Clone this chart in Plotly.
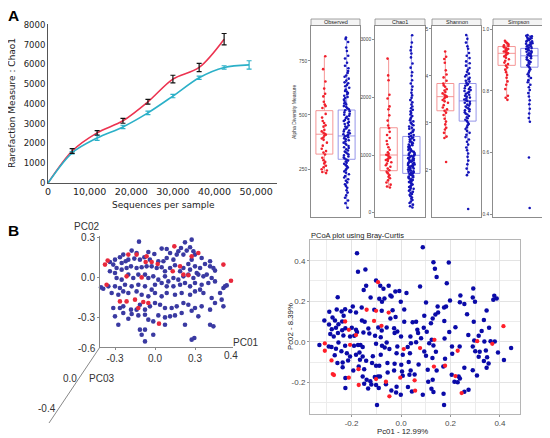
import plotly.graph_objects as go

W, H = 550, 438
OFF = 8  # the page body margin; the figure is shrunk by it so the whole picture fits the window

# ---------------- data ----------------
# A left: rarefaction curves (Chao1)
seq_red = [0, 5800, 11800, 18000, 24000, 30000, 36300, 42300]
chao_red = [0, 1620, 2540, 3150, 4110, 5260, 5850, 7280]
err_red = [0, 125, 110, 125, 120, 195, 210, 290]

seq_cyan = [0, 5800, 11800, 18000, 24000, 30000, 36300, 42300, 48300]
chao_cyan = [0, 1530, 2280, 2840, 3550, 4400, 5330, 5850, 5980]
err_cyan = [0, 60, 125, 85, 85, 85, 85, 85, 210]

# A right: alpha diversity box stats (q1, median, q3, lower whisker, upper whisker)
facets = ["Observed", "Chao1", "Shannon", "Simpson"]
box_red = {
    "Observed": [319, 411, 520, 231, 772],
    "Chao1": [728, 1000, 1473, 433, 2670],
    "Shannon": [3.26, 3.56, 3.84, 2.68, 4.52],
    "Simpson": [0.883, 0.922, 0.944, 0.771, 0.963],
}
box_blue = {
    "Observed": [295, 403, 523, 70, 860],
    "Chao1": [681, 995, 1322, 90, 3080],
    "Shannon": [3.04, 3.47, 3.84, 1.89, 4.87],
    "Simpson": [0.877, 0.914, 0.938, 0.70, 0.981],
}

obs_red = [772, 712, 655, 622, 598, 586, 561, 548, 541, 532, 505, 488, 472, 463,
           452, 446, 431, 424, 418, 413, 409, 404, 396, 391, 385, 372, 358, 344,
           333, 326, 317, 302, 291, 283, 276, 265, 258, 249, 243, 236, 231]
obs_blue = [858, 851, 838, 812, 796, 774, 761, 742, 728, 716, 703, 694, 683, 677,
            668, 659, 651, 647, 639, 633, 626, 618, 611, 607, 602, 596, 589, 583,
            578, 571, 566, 558, 553, 549, 541, 537, 531, 526, 522, 517, 512, 506,
            501, 497, 492, 486, 481, 477, 472, 468, 463, 458, 452, 447, 443, 438,
            433, 428, 424, 419, 415, 411, 407, 404, 401, 397, 392, 388, 383, 378,
            372, 367, 362, 356, 351, 347, 341, 336, 331, 327, 322, 317, 313, 308,
            303, 299, 294, 289, 285, 279, 274, 268, 262, 257, 251, 246, 239, 233,
            226, 218, 211, 203, 196, 188, 179, 171, 163, 152, 141, 128, 117, 104,
            92, 71]
chao_red_pts = [2672, 2381, 2296, 2045, 1981, 1843, 1792, 1688, 1597, 1512, 1466,
                1402, 1348, 1296, 1243, 1187, 1134, 1092, 1048, 1021, 1004, 993,
                972, 955, 941, 928, 913, 896, 874, 851, 823, 797, 764, 735, 708,
                682, 651, 623, 598, 561, 522, 486, 455, 436]
chao_blue_pts = [3078, 2952, 2871, 2814, 2760, 2693, 2588, 2515, 2436, 2374, 2297,
                 2241, 2186, 2133, 2078, 2034, 1991, 1952, 1913, 1876, 1842, 1811,
                 1783, 1756, 1728, 1702, 1677, 1651, 1628, 1604, 1583, 1561, 1538,
                 1516, 1495, 1474, 1456, 1437, 1418, 1399, 1381, 1364, 1347, 1331,
                 1316, 1302, 1288, 1273, 1259, 1246, 1232, 1219, 1206, 1193, 1181,
                 1168, 1156, 1144, 1132, 1121, 1109, 1098, 1087, 1076, 1065, 1054,
                 1044, 1033, 1022, 1012, 1002, 993, 983, 974, 964, 955, 946, 936,
                 927, 918, 909, 900, 891, 882, 873, 864, 855, 846, 837, 828, 819,
                 810, 801, 792, 783, 774, 765, 756, 747, 738, 728, 719, 709, 699,
                 689, 679, 669, 659, 648, 637, 626, 615, 604, 592, 580, 568, 556,
                 543, 530, 517, 503, 489, 475, 460, 445, 429, 413, 396, 379, 361,
                 343, 324, 305, 285, 264, 242, 219, 195, 168, 139, 112, 91]
shan_red = [4.52, 4.41, 4.36, 4.28, 4.12, 4.03, 3.97, 3.9, 3.84, 3.8, 3.77, 3.72,
            3.69, 3.66, 3.63, 3.6, 3.58, 3.56, 3.55, 3.52, 3.49, 3.46, 3.43, 3.38,
            3.33, 3.29, 3.26, 3.22, 3.17, 3.09, 3.03, 2.97, 2.9, 2.86, 2.79, 2.71,
            2.68, 2.17]
shan_blue = [4.87, 4.79, 4.71, 4.63, 4.58, 4.49, 4.43, 4.38, 4.31, 4.27, 4.22, 4.17,
             4.13, 4.09, 4.05, 4.02, 3.99, 3.96, 3.93, 3.9, 3.88, 3.85, 3.83, 3.81,
             3.79, 3.76, 3.74, 3.72, 3.7, 3.68, 3.66, 3.64, 3.62, 3.6, 3.58, 3.56,
             3.54, 3.52, 3.5, 3.48, 3.47, 3.45, 3.43, 3.41, 3.39, 3.37, 3.35, 3.33,
             3.31, 3.29, 3.27, 3.25, 3.23, 3.2, 3.18, 3.15, 3.12, 3.1, 3.07, 3.04,
             3.01, 2.98, 2.95, 2.91, 2.87, 2.83, 2.79, 2.75, 2.7, 2.65, 2.6, 2.54,
             2.48, 2.42, 2.35, 2.28, 2.2, 2.12, 2.03, 1.95, 1.89, 1.17]
simp_red = [0.963, 0.958, 0.955, 0.951, 0.948, 0.946, 0.943, 0.941, 0.938, 0.936,
            0.933, 0.931, 0.928, 0.926, 0.924, 0.922, 0.919, 0.916, 0.912, 0.908,
            0.903, 0.898, 0.892, 0.887, 0.882, 0.876, 0.869, 0.861, 0.852, 0.843,
            0.831, 0.82, 0.806, 0.784, 0.778, 0.771]
simp_blue = [0.981, 0.979, 0.977, 0.976, 0.973, 0.971, 0.969, 0.968, 0.965, 0.963,
             0.961, 0.96, 0.957, 0.955, 0.953, 0.952, 0.949, 0.947, 0.945, 0.944,
             0.941, 0.939, 0.937, 0.936, 0.933, 0.931, 0.929, 0.927, 0.925, 0.922,
             0.92, 0.918, 0.916, 0.914, 0.912, 0.909, 0.906, 0.903, 0.9, 0.897,
             0.894, 0.891, 0.887, 0.883, 0.879, 0.875, 0.87, 0.865, 0.86, 0.854,
             0.848, 0.842, 0.835, 0.828, 0.82, 0.812, 0.803, 0.793, 0.782, 0.77,
             0.757, 0.742, 0.727, 0.712, 0.7, 0.584, 0.42]
pts_red = {"Observed": obs_red, "Chao1": chao_red_pts, "Shannon": shan_red, "Simpson": simp_red}
pts_blue = {"Observed": obs_blue, "Chao1": chao_blue_pts, "Shannon": shan_blue, "Simpson": simp_blue}

# B left: PCA (PC01, PC02 as drawn)
pca_blue_x = [-0.12, 0.275, 0.225, 0.05, 0.088, 0.113, -0.005, -0.05, -0.138, -0.175,
              -0.238, -0.263, -0.30, -0.338, -0.313, -0.288, -0.25, -0.22, -0.20, -0.155,
              -0.113, -0.08, -0.038, 0.025, 0.063, 0.088, 0.138, 0.163, 0.175, 0.195,
              0.213, 0.238, 0.263, 0.288, 0.30, 0.275, 0.25, 0.30, 0.35, 0.375,
              0.413, 0.438, 0.45, 0.413, 0.338, 0.313, 0.263, 0.213, 0.188, 0.15,
              0.113, 0.075, 0.05, 0.013, -0.025, -0.063, -0.10, -0.138, -0.18, -0.213,
              -0.25, -0.30, -0.338, -0.288, -0.25, -0.20, -0.163, -0.125, -0.075, -0.05,
              -0.013, 0.025, 0.075, 0.10, 0.138, 0.175, 0.213, 0.25, 0.288, 0.325,
              0.363, 0.388, 0.425, 0.45, 0.40, 0.35, 0.30, 0.263, 0.225, 0.188,
              0.138, 0.088, 0.05, 0.0, -0.025, -0.075, -0.125, -0.175, -0.225, -0.263,
              -0.30, -0.35, -0.405, -0.388, -0.325, -0.275, -0.238, -0.20, -0.138, -0.10,
              -0.05, 0.0, 0.05, 0.088, 0.15, 0.20, 0.263, 0.30, 0.338, 0.363,
              0.425, 0.488, 0.513, 0.525, 0.538, 0.50, 0.45, 0.413, 0.35, 0.30,
              0.25, 0.213, 0.163, 0.125, 0.075, 0.038, 0.0, -0.038, -0.075, -0.113,
              -0.138, -0.18, -0.238, -0.263, -0.313, -0.30, -0.238, -0.175, -0.125, -0.075,
              -0.05, -0.013, 0.025, 0.075, 0.113, 0.15, 0.20, 0.275, 0.325, 0.513,
              0.413, 0.438, 0.225, 0.075, -0.113, -0.075, -0.10, -0.013, -0.075, 0.275,
              0.295, -0.275, -0.20]
pca_blue_y = [0.265, 0.28, 0.26, 0.213, 0.21, 0.18, 0.173, 0.188, 0.18, 0.198,
              0.168, 0.148, 0.13, 0.113, 0.093, 0.068, 0.105, 0.118, 0.13, 0.138,
              0.13, 0.148, 0.13, 0.118, 0.118, 0.143, 0.13, 0.168, 0.193, 0.218,
              0.168, 0.198, 0.223, 0.193, 0.168, 0.13, 0.098, 0.08, 0.143, 0.098,
              0.08, 0.068, 0.048, 0.118, 0.068, 0.03, 0.055, 0.068, 0.043, 0.088,
              0.068, 0.043, 0.073, 0.068, 0.08, 0.08, 0.073, 0.068, 0.08, 0.068,
              0.055, 0.03, 0.043, -0.008, -0.02, 0.018, -0.008, 0.018, 0.018, -0.008,
              0.005, -0.02, 0.005, -0.033, -0.008, -0.02, 0.005, 0.018, -0.008, 0.018,
              0.005, 0.018, -0.008, -0.033, -0.045, -0.058, -0.045, -0.07, -0.045, -0.058,
              -0.07, -0.07, -0.045, -0.058, -0.095, -0.07, -0.058, -0.07, -0.058, -0.083,
              -0.07, -0.07, -0.078, -0.088, -0.12, -0.133, -0.108, -0.12, -0.108, -0.133,
              -0.145, -0.12, -0.145, -0.12, -0.133, -0.12, -0.133, -0.108, -0.095, -0.12,
              -0.158, -0.12, -0.083, -0.07, -0.063, -0.17, -0.195, -0.245, -0.22, -0.233,
              -0.208, -0.195, -0.22, -0.233, -0.233, -0.208, -0.195, -0.22, -0.245, -0.208,
              -0.245, -0.245, -0.22, -0.233, -0.233, -0.295, -0.27, -0.278, -0.288, -0.283,
              -0.32, -0.333, -0.288, -0.303, -0.295, -0.288, -0.27, -0.253, -0.295, -0.22,
              -0.358, -0.37, -0.358, -0.358, -0.395, -0.395, -0.433, -0.433, -0.483, -0.47,
              -0.458, -0.358, -0.313]
pca_red_x = [-0.375, -0.355, -0.20, -0.138, -0.063, -0.07, -0.025, 0.02, 0.145, 0.325,
             0.275, 0.513, 0.57, -0.363, -0.213, -0.10, 0.133, 0.188, 0.213, 0.25,
             -0.263, -0.213, -0.15, -0.088, -0.05, -0.125, 0.03]
pca_red_y = [0.093, 0.123, 0.168, 0.168, 0.155, 0.113, 0.113, 0.098, 0.23, 0.18,
             0.155, 0.093, -0.028, -0.058, 0.005, -0.003, 0.043, 0.08, 0.018, 0.013,
             -0.183, -0.183, -0.17, -0.188, -0.195, -0.233, -0.35]

# B right: PCoA (Bray-Curtis)
pcoa_blue_x = [-0.178, -0.174, -0.144, -0.101, -0.141, -0.084, -0.050, -0.071, -0.151, -0.023,
               -0.007, 0.022, -0.043, -0.256, -0.123, -0.088, -0.067, -0.038, -0.077, -0.001,
               -0.195, -0.159, -0.226, -0.205, -0.108, -0.078, -0.034, 0.013, -0.290, -0.260,
               -0.240, -0.182, -0.232, -0.277, -0.310, -0.267, -0.238, -0.158, -0.147, -0.043,
               -0.022, 0.013, 0.047, -0.291, -0.253, -0.225, -0.199, -0.182, -0.178, -0.132,
               -0.092, -0.078, -0.058, -0.028, -0.015, -0.280, -0.263, -0.238, -0.286, -0.272,
               -0.255, -0.233, -0.206, -0.189, -0.152, -0.128, -0.105, -0.082, -0.058, -0.026,
               0.000, 0.038, -0.330, -0.292, -0.253, -0.226, -0.190, -0.174, -0.164, -0.155,
               -0.101, -0.077, -0.066, -0.047, -0.015, 0.027, 0.040, -0.281, -0.263, -0.241,
               -0.219, -0.168, -0.182, -0.155, -0.114, -0.082, -0.018, 0.007, 0.036, -0.268,
               -0.206, -0.257, -0.236, -0.214, -0.166, -0.141, -0.117, -0.101, -0.088, -0.055,
               -0.026, 0.001, 0.031, -0.171, -0.193, -0.149, -0.236, -0.054, -0.028, 0.004,
               0.039, 0.034, -0.225, -0.155, -0.139, -0.106, -0.093, -0.085, 0.007, -0.124,
               -0.149, -0.120, -0.101, -0.061, -0.018, 0.028, -0.225, -0.133, -0.090, -0.039,
               -0.020, -0.001, 0.044, -0.097,
               0.088, 0.131, 0.193, 0.137, 0.144, 0.077, 0.185, 0.240, 0.290, 0.292,
               0.198, 0.238, 0.256, 0.299, 0.101, 0.182, 0.174, 0.148, 0.346, 0.377,
               0.387, 0.373, 0.267, 0.094, 0.139, 0.150, 0.061, 0.175, 0.128, 0.121,
               0.294, 0.092, 0.066, 0.069, 0.104, 0.195, 0.220, 0.335, 0.356, 0.326,
               0.314, 0.272, 0.176, 0.124, 0.114, 0.081, 0.061, 0.131, 0.206, 0.237,
               0.296, 0.337, 0.362, 0.379, 0.445, 0.290, 0.094, 0.101, 0.141, 0.207,
               0.300, 0.318, 0.343, 0.314, 0.348, 0.392, 0.416, 0.127, 0.178, 0.171,
               0.071, 0.108, 0.144, 0.256, 0.290, 0.346, 0.307, 0.354, 0.335, 0.205,
               0.233, 0.238, 0.216, 0.229, 0.110, 0.128, 0.055, 0.123, 0.131, 0.088,
               0.172, 0.256, 0.273, 0.174]
pcoa_blue_y = [0.437, 0.345, 0.356, 0.302, 0.277, 0.277, 0.277, 0.261, 0.256, 0.248,
               0.250, 0.241, 0.228, 0.220, 0.218, 0.212, 0.213, 0.223, 0.197, 0.197,
               0.174, 0.169, 0.161, 0.151, 0.158, 0.153, 0.156, 0.159, 0.148, 0.159,
               0.149, 0.144, 0.128, 0.120, 0.105, 0.105, 0.100, 0.105, 0.099, 0.115,
               0.122, 0.099, 0.097, 0.085, 0.087, 0.067, 0.069, 0.059, 0.048, 0.066,
               0.071, 0.056, 0.071, 0.067, 0.051, 0.062, 0.069, 0.057, 0.039, 0.026,
               0.043, 0.031, 0.026, 0.030, 0.046, 0.041, 0.030, 0.023, -0.003, 0.043,
               0.026, 0.026, -0.016, -0.023, -0.003, -0.020, -0.020, -0.016, -0.016, -0.026,
               -0.010, -0.020, -0.028, -0.036, -0.023, -0.026, -0.007, -0.026, -0.034, -0.046,
               -0.056, -0.053, -0.064, -0.072, -0.071, -0.064, -0.056, -0.064, -0.056, -0.066,
               -0.072, -0.105, -0.102, -0.092, -0.089, -0.094, -0.105, -0.118, -0.118, -0.105,
               -0.108, -0.113, -0.099, -0.122, -0.141, -0.135, -0.125, -0.151, -0.141, -0.146,
               -0.141, -0.163, -0.179, -0.171, -0.187, -0.174, -0.171, -0.171, -0.167, -0.195,
               -0.207, -0.210, -0.213, -0.209, -0.222, -0.223, -0.228, -0.230, -0.228, -0.240,
               -0.250, -0.261, -0.245, -0.312,
               0.466, 0.392, 0.391, 0.360, 0.319, 0.273, 0.289, 0.228, 0.218, 0.263,
               0.204, 0.195, 0.186, 0.197, 0.194, 0.174, 0.169, 0.174, 0.154, 0.227,
               0.213, 0.207, 0.136, 0.128, 0.135, 0.144, 0.099, 0.102, 0.115, 0.092,
               0.099, 0.069, 0.059, 0.043, 0.049, 0.048, 0.072, 0.107, 0.069, 0.053,
               0.030, 0.034, 0.016, 0.010, -0.007, 0.018, -0.002, -0.018, -0.023, -0.023,
               0.007, 0.002, 0.003, 0.002, -0.031, -0.023, -0.048, -0.069, -0.049, -0.059,
               -0.046, -0.049, -0.043, -0.074, -0.076, -0.053, -0.090, -0.080, -0.084, -0.122,
               -0.112, -0.138, -0.141, -0.128, -0.140, -0.128, -0.166, -0.107, -0.095, -0.163,
               -0.171, -0.181, -0.197, -0.199, -0.197, -0.187, -0.161, -0.232, -0.248, -0.261,
               -0.256, -0.246, -0.236, -0.312]
pcoa_red_x = [-0.093, -0.139, -0.101, -0.050, -0.226, -0.109, -0.211, -0.079, -0.182, -0.308,
              -0.206, 0.011, -0.308, -0.281, -0.172, -0.276, -0.271, -0.211, -0.101, -0.061,
              -0.003, -0.171, -0.047,
              0.414, 0.135, 0.308, 0.369, 0.077, 0.229, 0.178, 0.133, 0.220, 0.055,
              0.057, 0.245]
pcoa_red_y = [0.294, 0.158, 0.153, 0.144, 0.100, 0.103, 0.059, 0.079, 0.033, -0.008,
              -0.015, -0.036, -0.044, -0.092, -0.135, -0.159, -0.164, -0.177, -0.184, -0.197,
              -0.177, -0.213, -0.269,
              0.077, 0.010, 0.003, -0.010, -0.031, -0.044, -0.118, -0.122, -0.169, -0.190,
              -0.241, -0.253]

# ---------------- styling ----------------
FONT = "Liberation Sans, Arial, sans-serif"
FONT_A = "DejaVu Sans, Verdana, sans-serif"
RED_LINE = "#ec3350"
CYAN_LINE = "#2bb0c8"
PT_RED = "#f0202c"
PT_BLUE = "#1414b8"
BOX_RED = "#f48a8a"
BOX_BLUE = "#8a8ae6"

FW, FH = W - OFF, H - OFF


def fx(p):
    # picture pixel -> paper fraction
    return (p - OFF) / FW


def fy(p):
    return 1 - (p - OFF) / FH


def label(text, px, py, size, xanchor="center", angle=0, family=FONT, color="#222222"):
    return dict(x=fx(px), y=fy(py), xref="paper", yref="paper", text=text, showarrow=False,
                xanchor=xanchor, yanchor="middle", textangle=angle,
                font=dict(family=family, size=size, color=color))


fig = go.Figure()

# ---- A left: rarefaction ----
fig.add_trace(go.Scatter(x=seq_red, y=chao_red, mode="lines", line=dict(color=RED_LINE, width=1.6, shape="spline", smoothing=0.9),
                         xaxis="x", yaxis="y", showlegend=False))
fig.add_trace(go.Scatter(x=seq_cyan, y=chao_cyan, mode="lines", line=dict(color=CYAN_LINE, width=1.6, shape="spline", smoothing=0.9),
                         xaxis="x", yaxis="y", showlegend=False))
fig.add_trace(go.Scatter(x=seq_cyan[1:], y=chao_cyan[1:], mode="markers", marker=dict(size=1, color="rgba(0,0,0,0)"),
                         error_y=dict(type="data", array=err_cyan[1:], color=CYAN_LINE, thickness=1.2, width=2.5),
                         xaxis="x", yaxis="y", showlegend=False))
fig.add_trace(go.Scatter(x=seq_red[1:], y=chao_red[1:], mode="markers", marker=dict(size=1, color="rgba(0,0,0,0)"),
                         error_y=dict(type="data", array=err_red[1:], color="#111111", thickness=1.2, width=2.5),
                         xaxis="x", yaxis="y", showlegend=False))

# ---- A right: alpha diversity facets ----
facet_px = [(311, 360), (375, 425), (432, 481), (493, 543)]
facet_ranges = [[28, 914], [-75, 3246], [1.0, 5.074], [0.391, 1.0123]]
facet_ticks = [([250, 500, 750], ["250", "500", "750"]),
               ([0, 1000, 2000, 3000], ["0", "1000", "2000", "3000"]),
               ([2, 3, 4, 5], ["2", "3", "4", "5"]),
               ([0.4, 0.6, 0.8, 1.0], ["0.4", "0.6", "0.8", "1.0"])]
PANEL_TOP, PANEL_BOT = 25.5, 217

layout_axes = {}
shapes = []
annotations = []
for i, name in enumerate(facets):
    n = i + 2
    xa, ya = "x%d" % n, "y%d" % n
    for grp, stats, pts, lc, pc in [(0, box_red[name], pts_red[name], BOX_RED, PT_RED),
                                     (1, box_blue[name], pts_blue[name], BOX_BLUE, PT_BLUE)]:
        fig.add_trace(go.Box(x=[grp], q1=[stats[0]], median=[stats[1]], q3=[stats[2]],
                             lowerfence=[stats[3]], upperfence=[stats[4]], width=0.76,
                             whiskerwidth=0, boxpoints=False, fillcolor="rgba(255,255,255,0)",
                             line=dict(color=lc, width=0.9), xaxis=xa, yaxis=ya, showlegend=False))
        fig.add_trace(go.Box(y=pts, x0=grp, width=0.76, boxpoints="all", jitter=0.4, pointpos=0,
                             fillcolor="rgba(0,0,0,0)", line=dict(width=0, color="rgba(0,0,0,0)"),
                             marker=dict(color=pc, size=2.6), xaxis=xa, yaxis=ya, showlegend=False))
    x0, x1 = facet_px[i]
    layout_axes["xaxis%d" % n] = dict(domain=[fx(x0), fx(x1)], anchor=ya, range=[-0.6, 1.6], automargin=False,
                                      showticklabels=False, ticks="", showgrid=False, zeroline=False,
                                      showline=True, mirror=True, linecolor="#8c8c8c", linewidth=0.8)
    tv, tt = facet_ticks[i]
    layout_axes["yaxis%d" % n] = dict(domain=[fy(PANEL_BOT), fy(PANEL_TOP)], anchor=xa, range=facet_ranges[i],
                                      automargin=False,
                                      tickvals=tv, ticktext=tt, ticks="outside", ticklen=2, tickcolor="#8c8c8c",
                                      tickfont=dict(size=4.8, color="#444444"), showgrid=False, zeroline=False,
                                      showline=True, mirror=True, linecolor="#8c8c8c", linewidth=0.8)
    shapes.append(dict(type="rect", xref="paper", yref="paper", x0=fx(x0), x1=fx(x1), y0=fy(25.5), y1=fy(19),
                       line=dict(color="#8c8c8c", width=0.8), fillcolor="#f4f4f4", layer="below"))
    annotations.append(label(name, (x0 + x1) / 2, 22.3, 5.5))

annotations.append(label("Alpha Diversity Measure", 294, 112, 5, angle=-90, color="#333333"))

# ---- B left: PCA drawn in perspective ----
fig.add_trace(go.Scatter(x=pca_blue_x, y=pca_blue_y, mode="markers", cliponaxis=False,
                         marker=dict(color="#3a3aa2", size=4.6, line=dict(width=0)),
                         xaxis="x6", yaxis="y6", showlegend=False))
fig.add_trace(go.Scatter(x=pca_red_x, y=pca_red_y, mode="markers", cliponaxis=False,
                         marker=dict(color="#e8283c", size=4.6, line=dict(width=0)),
                         xaxis="x6", yaxis="y6", showlegend=False))
layout_axes["xaxis6"] = dict(domain=[fx(100), fx(233)], anchor="y6", range=[-0.4125, 0.585], automargin=False,
                             tickvals=[-0.3, 0.0, 0.3], ticktext=["-0.3", "0.0", "0.3"],
                             ticks="outside", ticklen=2, tickcolor="#888888",
                             tickfont=dict(size=10, color="#333333"), showgrid=False, zeroline=False,
                             showline=True, linecolor="#888888", linewidth=1)
layout_axes["yaxis6"] = dict(domain=[fy(347), fy(236)], anchor="x6", range=[-0.525, 0.3075], automargin=False,
                             tickvals=[-0.3, 0.0, 0.3], ticktext=["-0.3", "0.0", "0.3"],
                             ticks="outside", ticklen=2, tickcolor="#888888",
                             tickfont=dict(size=10, color="#333333"), showgrid=False, zeroline=False,
                             showline=True, linecolor="#888888", linewidth=1)
shapes.append(dict(type="line", xref="paper", yref="paper", x0=fx(100), y0=fy(347), x1=fx(49), y1=fy(423),
                   line=dict(color="#888888", width=1)))
for txt, px, py, anc in [("PC02", 86, 226.5, "center"), ("PC01", 245, 342, "center"), ("0.4", 231, 355, "center"),
                         ("-0.6", 98, 348, "right"), ("0.0", 79, 378, "right"), ("PC03", 87, 378, "left"),
                         ("-0.4", 58, 408, "right")]:
    annotations.append(label(txt, px, py, 10, xanchor=anc, color="#333333"))

# ---- B right: PCoA ----
fig.add_trace(go.Scatter(x=pcoa_blue_x, y=pcoa_blue_y, mode="markers",
                         marker=dict(color="#0a0aa8", size=4.5, line=dict(width=0)),
                         xaxis="x7", yaxis="y7", showlegend=False))
fig.add_trace(go.Scatter(x=pcoa_red_x, y=pcoa_red_y, mode="markers",
                         marker=dict(color="#ff1f2a", size=4.3, line=dict(width=0)),
                         xaxis="x7", yaxis="y7", showlegend=False))
grid_minor = dict(showgrid=True, gridcolor="#ececec", gridwidth=0.8, dtick=0.1, tick0=0.1, ticks="")
pcoa_ticks = [-0.2, 0.0, 0.2, 0.4]
pcoa_text = ["-0.2", "0.0", "0.2", "0.4"]
layout_axes["xaxis7"] = dict(domain=[fx(310), fx(520)], anchor="y7", range=[-0.368, 0.481], automargin=False,
                             tickvals=pcoa_ticks, ticktext=pcoa_text, ticks="outside", ticklen=1.5, tickcolor="#999999",
                             tickfont=dict(size=8, color="#4d4d4d"), showgrid=True, gridcolor="#e3e3e3",
                             gridwidth=0.8, zeroline=False, minor=grid_minor,
                             showline=True, mirror=True, linecolor="#b5b5b5", linewidth=1)
layout_axes["yaxis7"] = dict(domain=[fy(414), fy(240)], anchor="x7", range=[-0.356, 0.502], automargin=False,
                             tickvals=pcoa_ticks, ticktext=pcoa_text, ticks="outside", ticklen=2, tickcolor="#999999",
                             tickfont=dict(size=8, color="#4d4d4d"), showgrid=True, gridcolor="#e3e3e3",
                             gridwidth=0.8, zeroline=False, minor=grid_minor,
                             showline=True, mirror=True, linecolor="#b5b5b5", linewidth=1)
annotations += [
    label("PCoA plot using Bray-Curtis", 309, 235.5, 7.5, xanchor="left"),
    label("Pc01 - 12.99%", 402, 431, 7.8),
    label("Pc02 - 8.39%", 290, 326, 7.8, angle=-90),
]

# ---- A left axes + panel letters ----
annotations += [
    label("Rarefaction Measure : Chao1", 12, 103, 9, angle=-90, family=FONT_A),
    label("Sequences per sample", 163, 205, 9, family=FONT_A),
    label("<b>A</b>", 13, 15, 15.5, color="#000000"),
    label("<b>B</b>", 13, 230, 15.5, color="#000000"),
]

fig.update_layout(
    width=FW, height=FH, margin=dict(l=0, r=0, t=0, b=0, autoexpand=False),
    paper_bgcolor="white", plot_bgcolor="white",
    font=dict(family=FONT, color="#222222"),
    showlegend=False, boxmode="overlay",
    xaxis=dict(domain=[fx(48), fx(277)], anchor="y", range=[0, 55000], automargin=False,
               tickvals=[0, 10000, 20000, 30000, 40000, 50000], tickformat=",d",
               tickfont=dict(family=FONT_A, size=9.5, color="#222222"), ticks="", showgrid=False, zeroline=False,
               showline=True, linecolor="#555555", linewidth=1),
    yaxis=dict(domain=[fy(183), fy(24)], anchor="x", range=[0, 8050], automargin=False,
               tickvals=[0, 1000, 2000, 3000, 4000, 5000, 6000, 7000, 8000],
               tickfont=dict(family=FONT_A, size=8.5, color="#222222"), ticks="", showgrid=False, zeroline=False,
               showline=True, linecolor="#555555", linewidth=1),
    shapes=shapes, annotations=annotations,
    **layout_axes,
)

fig.write_html("out.html")
